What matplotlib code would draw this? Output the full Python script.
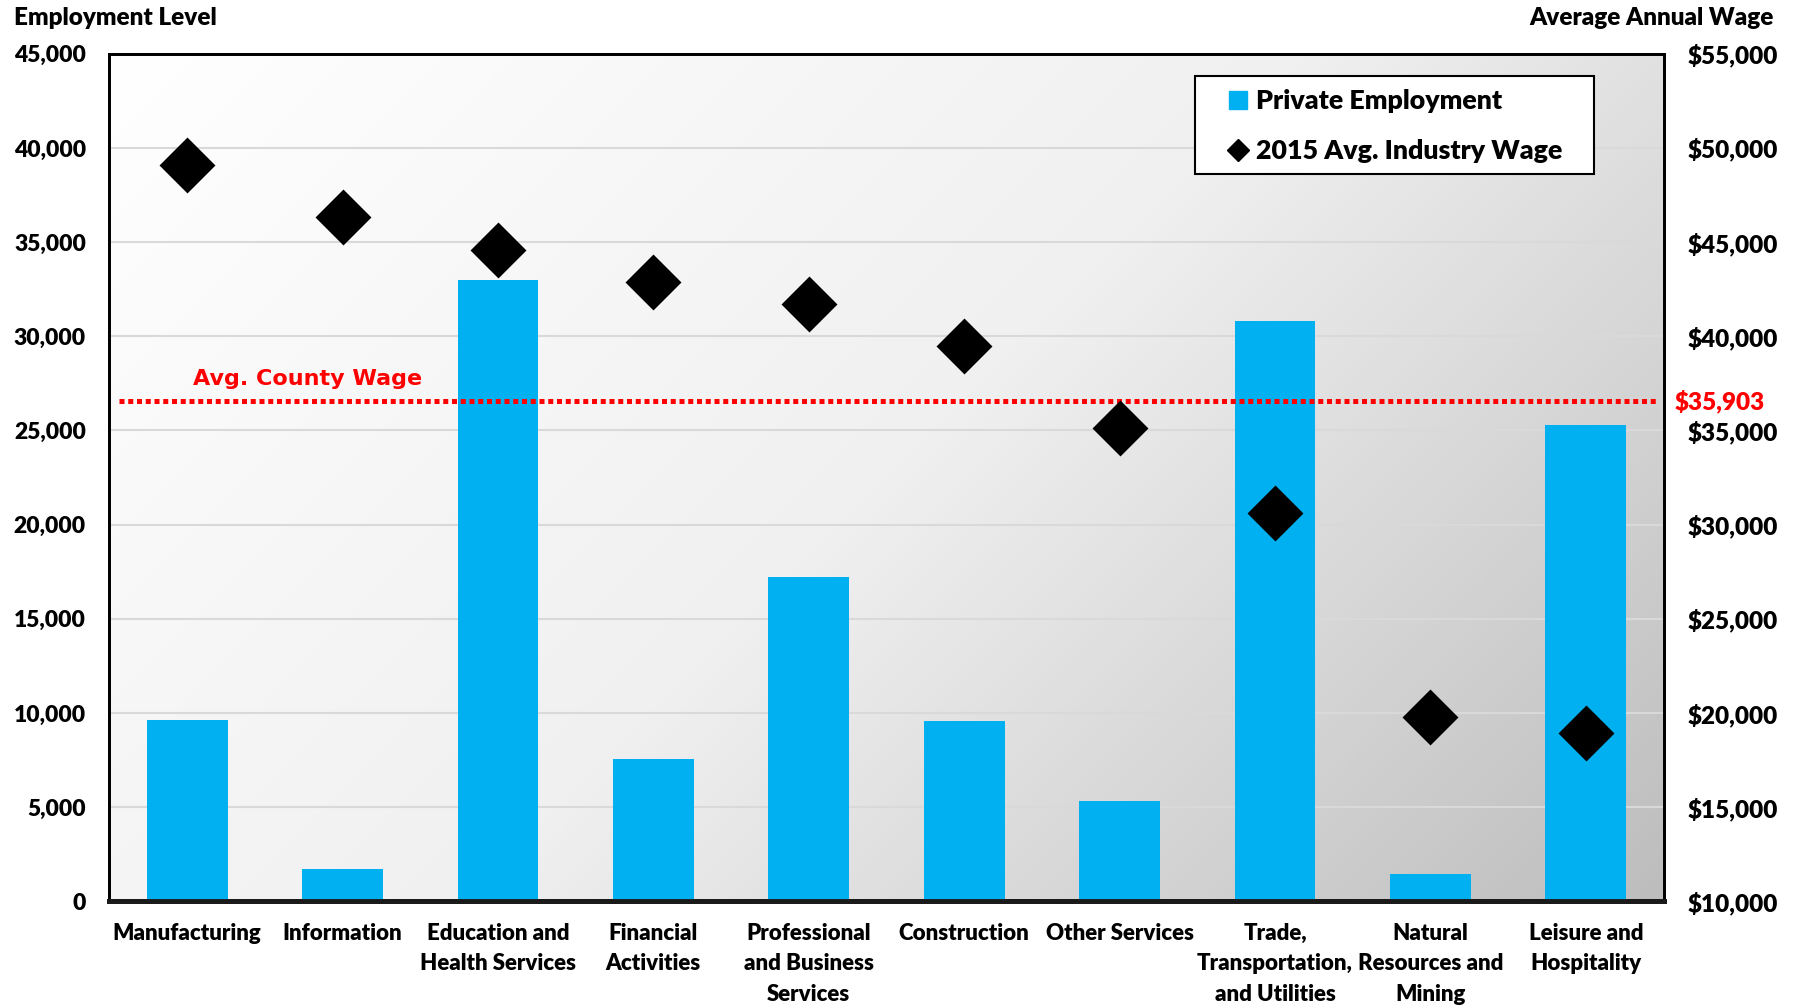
import numpy as np
import matplotlib.pyplot as plt
from matplotlib.colors import LinearSegmentedColormap
from matplotlib.lines import Line2D
from matplotlib.patches import Rectangle
from matplotlib.ticker import FuncFormatter

plt.rcParams['font.family'] = ['Lato', 'DejaVu Sans']
plt.rcParams['font.weight'] = 'heavy'

industries = ['Manufacturing', 'Information', 'Education and\nHealth Services',
              'Financial\nActivities', 'Professional\nand Business\nServices',
              'Construction', 'Other Services', 'Trade,\nTransportation,\nand Utilities',
              'Natural\nResources and\nMining', 'Leisure and\nHospitality']
employment = [9650, 1700, 33000, 7550, 17200, 9600, 5350, 30800, 1450, 25300]
avg_wage = [49100, 46350, 44600, 42900, 41700, 39500, 35150, 30600, 19800, 18950]
county_wage_label = '$35,903'
county_wage_line = 36550

fig = plt.figure(figsize=(17.98, 10.05), dpi=100)
ax = fig.add_axes([0.0609, 0.1031, 0.8643, 0.8434])
ax2 = ax.twinx()

# diagonal gradient background
nx, ny = 400, 220
gx, gy = np.meshgrid(np.linspace(0, 1, nx), np.linspace(1, 0, ny))
t = (gx * 1.84 + (1 - gy)) / 2.84
cmap = LinearSegmentedColormap.from_list('bg', [(0, '#ffffff'), (0.5, '#f0f0f0'), (1, '#bdbdbd')])
ax.imshow(t, cmap=cmap, vmin=0, vmax=1, extent=[0, 1, 0, 1], transform=ax.transAxes,
          aspect='auto', zorder=0, interpolation='bilinear')

x = np.arange(len(industries))
ax.bar(x, employment, width=0.52, color='#00b0f0', zorder=3)
ax.set_xlim(-0.5, len(industries) - 0.5)
ax.set_ylim(0, 45000)
ax.set_yticks(np.arange(0, 45001, 5000))
ax.yaxis.set_major_formatter(FuncFormatter(lambda v, p: f'{int(v):,}'))
ax.grid(axis='y', color='#d9d9d9', linewidth=1.5, zorder=1)
ax.set_axisbelow(True)
ax.set_xticks(x)
ax.set_xticklabels(industries, fontsize=16, linespacing=1.55, va='top')
ax.tick_params(axis='x', length=0, pad=15.5)
ax.tick_params(axis='y', length=0, pad=17, labelsize=16.5)

ax2.set_ylim(10000, 55000)
ax2.set_yticks(np.arange(10000, 55001, 5000))
ax2.yaxis.set_major_formatter(FuncFormatter(lambda v, p: f'${int(v):,}'))
ax2.tick_params(axis='y', length=0, pad=17.5, labelsize=17.5)
ax2.plot(x, avg_wage, linestyle='none', marker='D', markersize=26, color='black',
         markeredgecolor='black', markeredgewidth=2, zorder=5)

ax2.axhline(county_wage_line, xmin=0.006, xmax=0.996, color='#ff0000', linewidth=3.6,
            linestyle=(0, (1, 0.75)), zorder=4)
ax2.text(1.0074, county_wage_line, county_wage_label, transform=ax2.get_yaxis_transform(),
         color='#ff0000', fontsize=17.5, va='center', ha='left')
ax2.text(0.054, 37750, 'Avg. County Wage', transform=ax2.get_yaxis_transform(),
         color='#ff0000', fontsize=16, va='center', ha='left', family='DejaVu Sans',
         fontweight='bold')

for a in (ax, ax2):
    for s in ('left', 'right', 'top'):
        a.spines[s].set_linewidth(2)
        a.spines[s].set_color('black')
    a.spines['bottom'].set_linewidth(3.5)
    a.spines['bottom'].set_color('#1a1a1a')

fig.text(0.008, 0.982, 'Employment Level', fontsize=17.5, va='center', ha='left')
fig.text(0.9865, 0.982, 'Average Annual Wage', fontsize=17.5, va='center', ha='right')

# legend box drawn separately, entries placed inside it
ax2.add_patch(Rectangle((0.6986, 0.8579), 0.2564, 0.1164, transform=ax2.transAxes,
                        facecolor='white', edgecolor='black', linewidth=1.5, zorder=6))
handles = [Line2D([], [], linestyle='none', marker='s', markersize=13, color='#00b0f0'),
           Line2D([], [], linestyle='none', marker='D', markersize=11, color='black')]
leg = ax2.legend(handles, ['Private Employment', '2015 Avg. Industry Wage'],
                 loc='center left', bbox_to_anchor=(0.7163, 0.9145), fontsize=19.3,
                 frameon=False, borderpad=0, labelspacing=0.96,
                 handletextpad=0.1, handlelength=1.14, borderaxespad=0)
leg.set_zorder(7)

fig.savefig('out.png', dpi=100)
